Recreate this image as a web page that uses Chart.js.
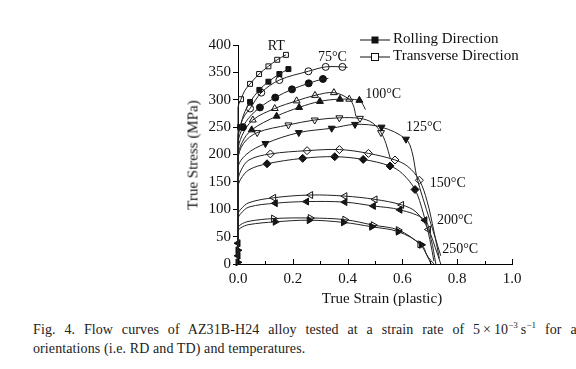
<!DOCTYPE html>
<html>
<head>
<meta charset="utf-8">
<script src="https://cdn.jsdelivr.net/npm/chart.js@4.4.0/dist/chart.umd.min.js"></script>
<style>
  body { margin: 0; width: 576px; height: 369px; overflow: hidden; background: #fff; font-family: "Liberation Serif", serif; color: #111; position: relative; }
  #wrap { position: absolute; left: 0; top: 0; width: 576px; height: 300px; }
  .abs { position: absolute; white-space: nowrap; }
  .ytitle { left: 193px; top: 155px; transform: translate(-50%, -50%) rotate(-90deg); font-size: 15px; }
  .xtitle { left: 382px; top: 298px; transform: translate(-50%, -50%); font-size: 15px; }
  .legend { left: 360px; font-size: 15px; line-height: 17px; }
  .legend svg { vertical-align: middle; margin-right: 3px; }
  .caption { left: 33px; font-size: 14px; letter-spacing: 0.1px; color: #222; }
  .wide { word-spacing: 5.2px; }
  sup { font-size: 9px; line-height: 0; }
</style>
</head>
<body>
<div id="wrap"><canvas id="chart" width="576" height="300"></canvas></div>
<div class="abs ytitle">True Stress (MPa)</div>
<div class="abs xtitle">True Strain (plastic)</div>
<div class="abs legend" style="top:30px"><svg width="30" height="10"><line x1="0" y1="5" x2="30" y2="5" stroke="#111"/><rect x="11.5" y="1.5" width="7" height="7" fill="#111"/></svg>Rolling Direction</div>
<div class="abs legend" style="top:47px"><svg width="30" height="10"><line x1="0" y1="5" x2="30" y2="5" stroke="#111"/><rect x="11.5" y="1.5" width="7" height="7" fill="#fff" stroke="#111"/></svg>Transverse Direction</div>
<div class="abs caption wide" style="top:322px">Fig. 4. Flow curves of AZ31B-H24 alloy tested at a strain rate of 5&thinsp;×&thinsp;10<sup>−3</sup>&thinsp;s<sup>−1</sup> for all</div>
<div class="abs caption" style="top:341px">orientations (i.e. RD and TD) and temperatures.</div>
<script>
// [strain, stress]
const rtRdCurve = [[0,0],[0,235],[0.008,250],[0.02,272],[0.044,296],[0.078,318],[0.111,333],[0.151,347],[0.184,356]];
const rtRdMarks = [[0.008,250],[0.044,296],[0.078,318],[0.111,333],[0.151,347],[0.184,356]];
const rtTdCurve = [[0,0],[0,285],[0.011,301],[0.025,317],[0.044,329],[0.077,347],[0.111,361],[0.143,373],[0.175,382]];
const rtTdMarks = [[0.011,301],[0.044,329],[0.077,347],[0.111,361],[0.143,373],[0.175,382]];

const t75RdCurve = [[0,0],[0,220],[0.018,250],[0.045,270],[0.08,286],[0.136,304],[0.197,319],[0.258,330],[0.31,338],[0.33,339]];
const t75RdMarks = [[0.018,250],[0.08,286],[0.136,304],[0.197,319],[0.258,330],[0.31,338]];
const t75TdCurve = [[0,0],[0,225],[0.01,255],[0.025,272],[0.044,284],[0.085,313],[0.151,336],[0.257,352],[0.32,360],[0.381,360],[0.4,359]];
const t75TdMarks = [[0.044,284],[0.085,313],[0.151,336],[0.257,352],[0.32,360],[0.381,360]];

const t100RdCurve = [[0,0],[0,195],[0.015,222],[0.05,245],[0.141,270],[0.223,286],[0.299,297],[0.372,301],[0.443,299],[0.455,292],[0.465,282]];
const t100RdMarks = [[0.05,245],[0.141,270],[0.223,286],[0.299,297],[0.372,301],[0.443,299]];
const t100TdCurve = [[0,0],[0,205],[0.015,235],[0.054,263],[0.134,284],[0.214,298],[0.281,308],[0.35,313],[0.406,301],[0.422,288],[0.43,270]];
const t100TdMarks = [[0.054,263],[0.134,284],[0.214,298],[0.281,308],[0.35,313],[0.406,301]];

const t125RdCurve = [[0,0],[0,175],[0.03,200],[0.10,220],[0.222,240],[0.342,248],[0.427,255],[0.524,250],[0.613,228],[0.635,205],[0.652,160],[0.675,120],[0.70,80],[0.74,15]];
const t125RdMarks = [[0.10,220],[0.222,240],[0.342,248],[0.427,255],[0.524,250],[0.613,228]];
const t125TdCurve = [[0,0],[0,190],[0.02,220],[0.07,240],[0.184,254],[0.28,263],[0.37,267],[0.445,266],[0.49,258],[0.522,240],[0.54,220],[0.556,192]];
const t125TdMarks = [[0.07,240],[0.184,254],[0.28,263],[0.37,267],[0.445,266],[0.522,240]];

const t150RdCurve = [[0,0],[0,140],[0.01,155],[0.04,172],[0.106,183],[0.236,193],[0.353,196],[0.457,191],[0.555,179],[0.60,165],[0.646,136],[0.675,95],[0.70,45],[0.715,5]];
const t150RdMarks = [[0.106,183],[0.236,193],[0.353,196],[0.457,191],[0.555,179],[0.646,136]];
const t150TdCurve = [[0,0],[0,150],[0.01,170],[0.04,190],[0.118,201],[0.252,207],[0.37,209],[0.476,202],[0.573,190],[0.62,178],[0.662,153],[0.69,115],[0.715,60],[0.735,10]];
const t150TdMarks = [[0.118,201],[0.252,207],[0.37,209],[0.476,202],[0.573,190],[0.662,153]];

const t200RdCurve = [[0,0],[0,82],[0.01,92],[0.04,104],[0.136,111],[0.25,114],[0.39,113],[0.494,106],[0.591,99],[0.682,80],[0.705,45],[0.722,0]];
const t200RdMarks = [[0,15],[0,38],[0.136,111],[0.25,114],[0.39,113],[0.494,106],[0.591,99],[0.682,80]];
const t200TdCurve = [[0,0],[0,90],[0.01,100],[0.04,112],[0.13,121],[0.265,126],[0.39,124],[0.50,118],[0.597,108],[0.65,95],[0.695,63],[0.72,30],[0.74,0]];
const t200TdMarks = [[0.13,121],[0.265,126],[0.39,124],[0.50,118],[0.597,108],[0.695,63]];

const t250RdCurve = [[0,0],[0,60],[0.01,66],[0.04,72],[0.136,77],[0.26,80],[0.385,76],[0.488,68],[0.585,59],[0.67,35],[0.69,15],[0.705,0]];
const t250RdMarks = [[0,3],[0,25],[0.136,77],[0.26,80],[0.385,76],[0.488,68],[0.585,59],[0.67,35]];
const t250TdCurve = [[0,0],[0,65],[0.01,72],[0.04,78],[0.13,83],[0.264,84],[0.39,81],[0.494,71],[0.585,62],[0.664,36],[0.695,12],[0.715,0]];
const t250TdMarks = [[0.13,83],[0.264,84],[0.39,81],[0.494,71],[0.585,62],[0.664,36]];

const xTicks = [0, 0.2, 0.4, 0.6, 0.8, 1.0];
const yTicks = [0, 50, 100, 150, 200, 250, 300, 350, 400];
const tempLabels = ["RT", "75°C", "100°C", "125°C", "150°C", "200°C", "250°C"];

// label anchors (left edge, middle) in data units
const tempSpots = [[0.109,398],[0.292,378],[0.464,309],[0.613,250],[0.70,148],[0.726,79],[0.745,27]];

const series = [
  [rtRdCurve, rtRdMarks, "rect", 0, true],
  [rtTdCurve, rtTdMarks, "rect", 0, false],
  [t75RdCurve, t75RdMarks, "circle", 0, true],
  [t75TdCurve, t75TdMarks, "circle", 0, false],
  [t100RdCurve, t100RdMarks, "triangle", 0, true],
  [t100TdCurve, t100TdMarks, "triangle", 0, false],
  [t125RdCurve, t125RdMarks, "triangle", 180, true],
  [t125TdCurve, t125TdMarks, "triangle", 180, false],
  [t150RdCurve, t150RdMarks, "rectRot", 0, true],
  [t150TdCurve, t150TdMarks, "rectRot", 0, false],
  [t200RdCurve, t200RdMarks, "triangle", -90, true],
  [t200TdCurve, t200TdMarks, "triangle", -90, false],
  [t250RdCurve, t250RdMarks, "triangle", 90, true],
  [t250TdCurve, t250TdMarks, "triangle", 90, false]
];

const toXY = arr => arr.map(p => ({ x: p[0], y: p[1] }));

const datasets = [];
series.forEach(([curve, marks, style, rot, filled]) => {
  datasets.push({
    type: "line",
    data: toXY(curve),
    borderColor: "#222",
    borderWidth: 1,
    pointRadius: 0,
    tension: 0.35,
    clip: false
  });
  datasets.push({
    type: "scatter",
    data: toXY(marks),
    pointStyle: style,
    rotation: rot,
    pointRadius: style === "triangle" ? 4 : (style === "rectRot" ? 4 : 3.5),
    backgroundColor: filled ? "#111" : "#fff",
    borderColor: "#111",
    borderWidth: 1,
    clip: false
  });
});

const extras = {
  id: "extras",
  afterDraw(chart) {
    const { ctx, scales: { x, y }, chartArea } = chart;
    ctx.save();
    // inward x ticks, minor every 0.1
    ctx.strokeStyle = "#000";
    ctx.lineWidth = 1;
    for (let i = 0; i <= 10; i++) {
      const px = Math.round(x.getPixelForValue(i / 10)) + 0.5;
      const len = i % 2 === 0 ? 5 : 3;
      ctx.beginPath();
      ctx.moveTo(px, chartArea.bottom);
      ctx.lineTo(px, chartArea.bottom - len);
      ctx.stroke();
    }
    ctx.fillStyle = "#111";
    ctx.font = "14px 'Liberation Serif'";
    ctx.textBaseline = "middle";
    tempLabels.forEach((t, i) => {
      ctx.fillText(t, x.getPixelForValue(tempSpots[i][0]), y.getPixelForValue(tempSpots[i][1]));
    });
    ctx.restore();
  }
};

new Chart(document.getElementById("chart"), {
  data: { datasets },
  options: {
    responsive: false,
    animation: false,
    layout: { padding: { left: 0, right: 64, top: 45, bottom: 0 } },
    plugins: { legend: { display: false }, tooltip: { enabled: false } },
    scales: {
      x: {
        type: "linear",
        min: 0,
        max: 1,
        afterFit: s => { s.height = 36; },
        afterBuildTicks: s => { s.ticks = xTicks.map(v => ({ value: v })); },
        grid: { drawOnChartArea: false, drawTicks: false },
        border: { color: "#000", width: 1 },
        ticks: { color: "#111", padding: 6, font: { family: "Liberation Serif", size: 15 }, callback: v => v.toFixed(1) }
      },
      y: {
        type: "linear",
        min: 0,
        max: 400,
        afterFit: s => { s.width = 238; },
        afterBuildTicks: s => { s.ticks = yTicks.map(v => ({ value: v })); },
        grid: { drawOnChartArea: false, tickLength: 5, color: "#000" },
        border: { color: "#000", width: 1 },
        ticks: { color: "#111", padding: 2, font: { family: "Liberation Serif", size: 15 } }
      }
    }
  },
  plugins: [extras]
});
</script>
</body>
</html>
